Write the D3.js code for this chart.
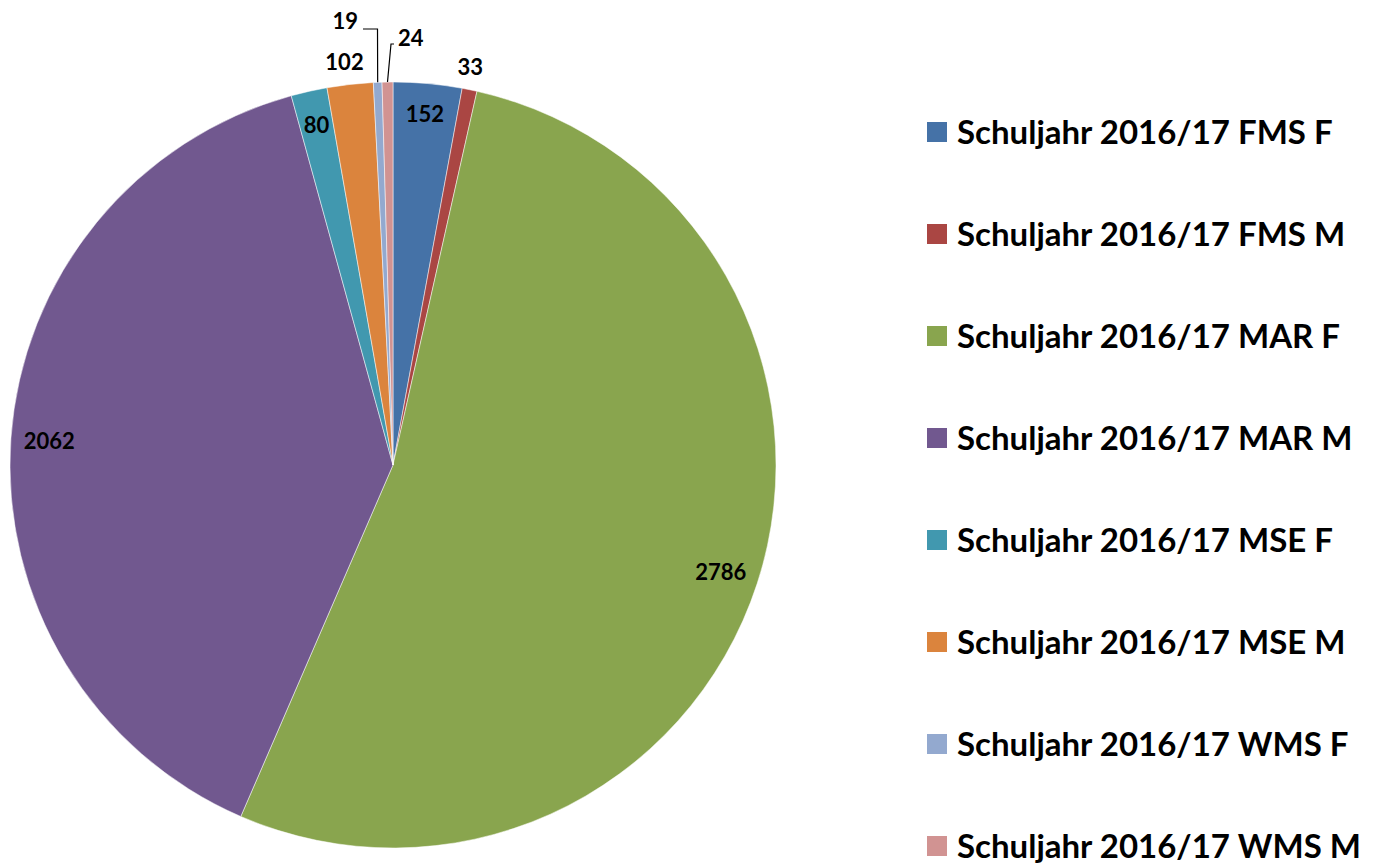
<!DOCTYPE html>
<html>
<head>
<meta charset="utf-8">
<script src="https://cdn.jsdelivr.net/npm/d3@7"></script>
<style>
  body { margin: 0; background: #fff; }
  text { font-family: Lato, "Open Sans", sans-serif; font-weight: bold; }
</style>
</head>
<body>
<div id="pie"></div>
<script>
var categories = ["Schuljahr 2016/17 FMS F", "Schuljahr 2016/17 FMS M", "Schuljahr 2016/17 MAR F",
    "Schuljahr 2016/17 MAR M", "Schuljahr 2016/17 MSE F", "Schuljahr 2016/17 MSE M",
    "Schuljahr 2016/17 WMS F", "Schuljahr 2016/17 WMS M"];
var values = [152, 33, 2786, 2062, 80, 102, 19, 24];
var colors = ["#4572A7", "#AA4643", "#89A54E", "#71588F", "#4198AF", "#DB843D", "#93A9CF", "#D19392"];

var width = 1374, height = 864;
var cx = 393, cy = 465, radius = 383;

var svg = d3.select("#pie").append("svg")
    .attr("width", width)
    .attr("height", height);

var data = categories.map(function(c, i) { return {name: c, value: values[i], color: colors[i]}; });

var pie = d3.pie().sort(null).value(function(d) { return d.value; });
var arc = d3.arc().innerRadius(0).outerRadius(radius);
var arcs = pie(data);

var g = svg.append("g").attr("transform", "translate(" + cx + "," + cy + ")");

g.selectAll(".slice")
    .data(arcs)
    .enter()
    .append("path")
    .attr("class", "slice")
    .attr("d", arc)
    .attr("fill", function(d) { return d.data.color; })
    .attr("stroke", "#fff")
    .attr("stroke-width", 0.5);

// label placement: radius factor for most, leader line for the two tiny slices
var labelPos = {
    0: {r: 0.92},
    1: {r: 1.06, dx: -4},
    2: {r: 0.90},
    3: {r: 0.90},
    4: {r: 0.91},
    5: {r: 1.06, dx: -3},
    6: {line: [[-15.5, -436], [-30, -436]], text: [-35, -444], anchor: "end"},
    7: {line: [[-2, -421], [1, -421]], text: [5, -427], anchor: "start"}
};

arcs.forEach(function(d, i) {
    var mid = (d.startAngle + d.endAngle) / 2;
    var p = labelPos[i];
    var lx, ly, anchor = "middle";
    if (p.line) {
        var ex = Math.sin(mid) * radius, ey = -Math.cos(mid) * radius;
        var pts = [[ex, ey]].concat(p.line);
        g.append("polyline")
            .attr("points", pts.map(function(q) { return q.join(","); }).join(" "))
            .attr("fill", "none")
            .attr("stroke", "#000")
            .attr("stroke-width", 1.2);
        lx = p.text[0];
        ly = p.text[1];
        anchor = p.anchor;
    } else {
        lx = Math.sin(mid) * radius * p.r + (p.dx || 0);
        ly = -Math.cos(mid) * radius * p.r;
    }
    g.append("text")
        .attr("x", lx)
        .attr("y", ly)
        .attr("dy", "0.36em")
        .attr("text-anchor", anchor)
        .style("font-size", "22px")
        .attr("fill", "#000")
        .text(d.data.value);
});

// legend
var legend = svg.append("g").attr("transform", "translate(927,0)");
var rowY = d3.scaleLinear().domain([0, categories.length - 1]).range([132, 846]);

var rows = legend.selectAll(".row")
    .data(data)
    .enter()
    .append("g")
    .attr("class", "row")
    .attr("transform", function(d, i) { return "translate(0," + rowY(i) + ")"; });

rows.append("rect")
    .attr("x", 0)
    .attr("y", -10)
    .attr("width", 20)
    .attr("height", 20)
    .attr("fill", function(d) { return d.color; });

rows.append("text")
    .attr("x", 30)
    .attr("y", 0)
    .attr("dy", "0.36em")
    .style("font-size", "33px")
    .attr("fill", "#000")
    .text(function(d) { return d.name; });
</script>
</body>
</html>
